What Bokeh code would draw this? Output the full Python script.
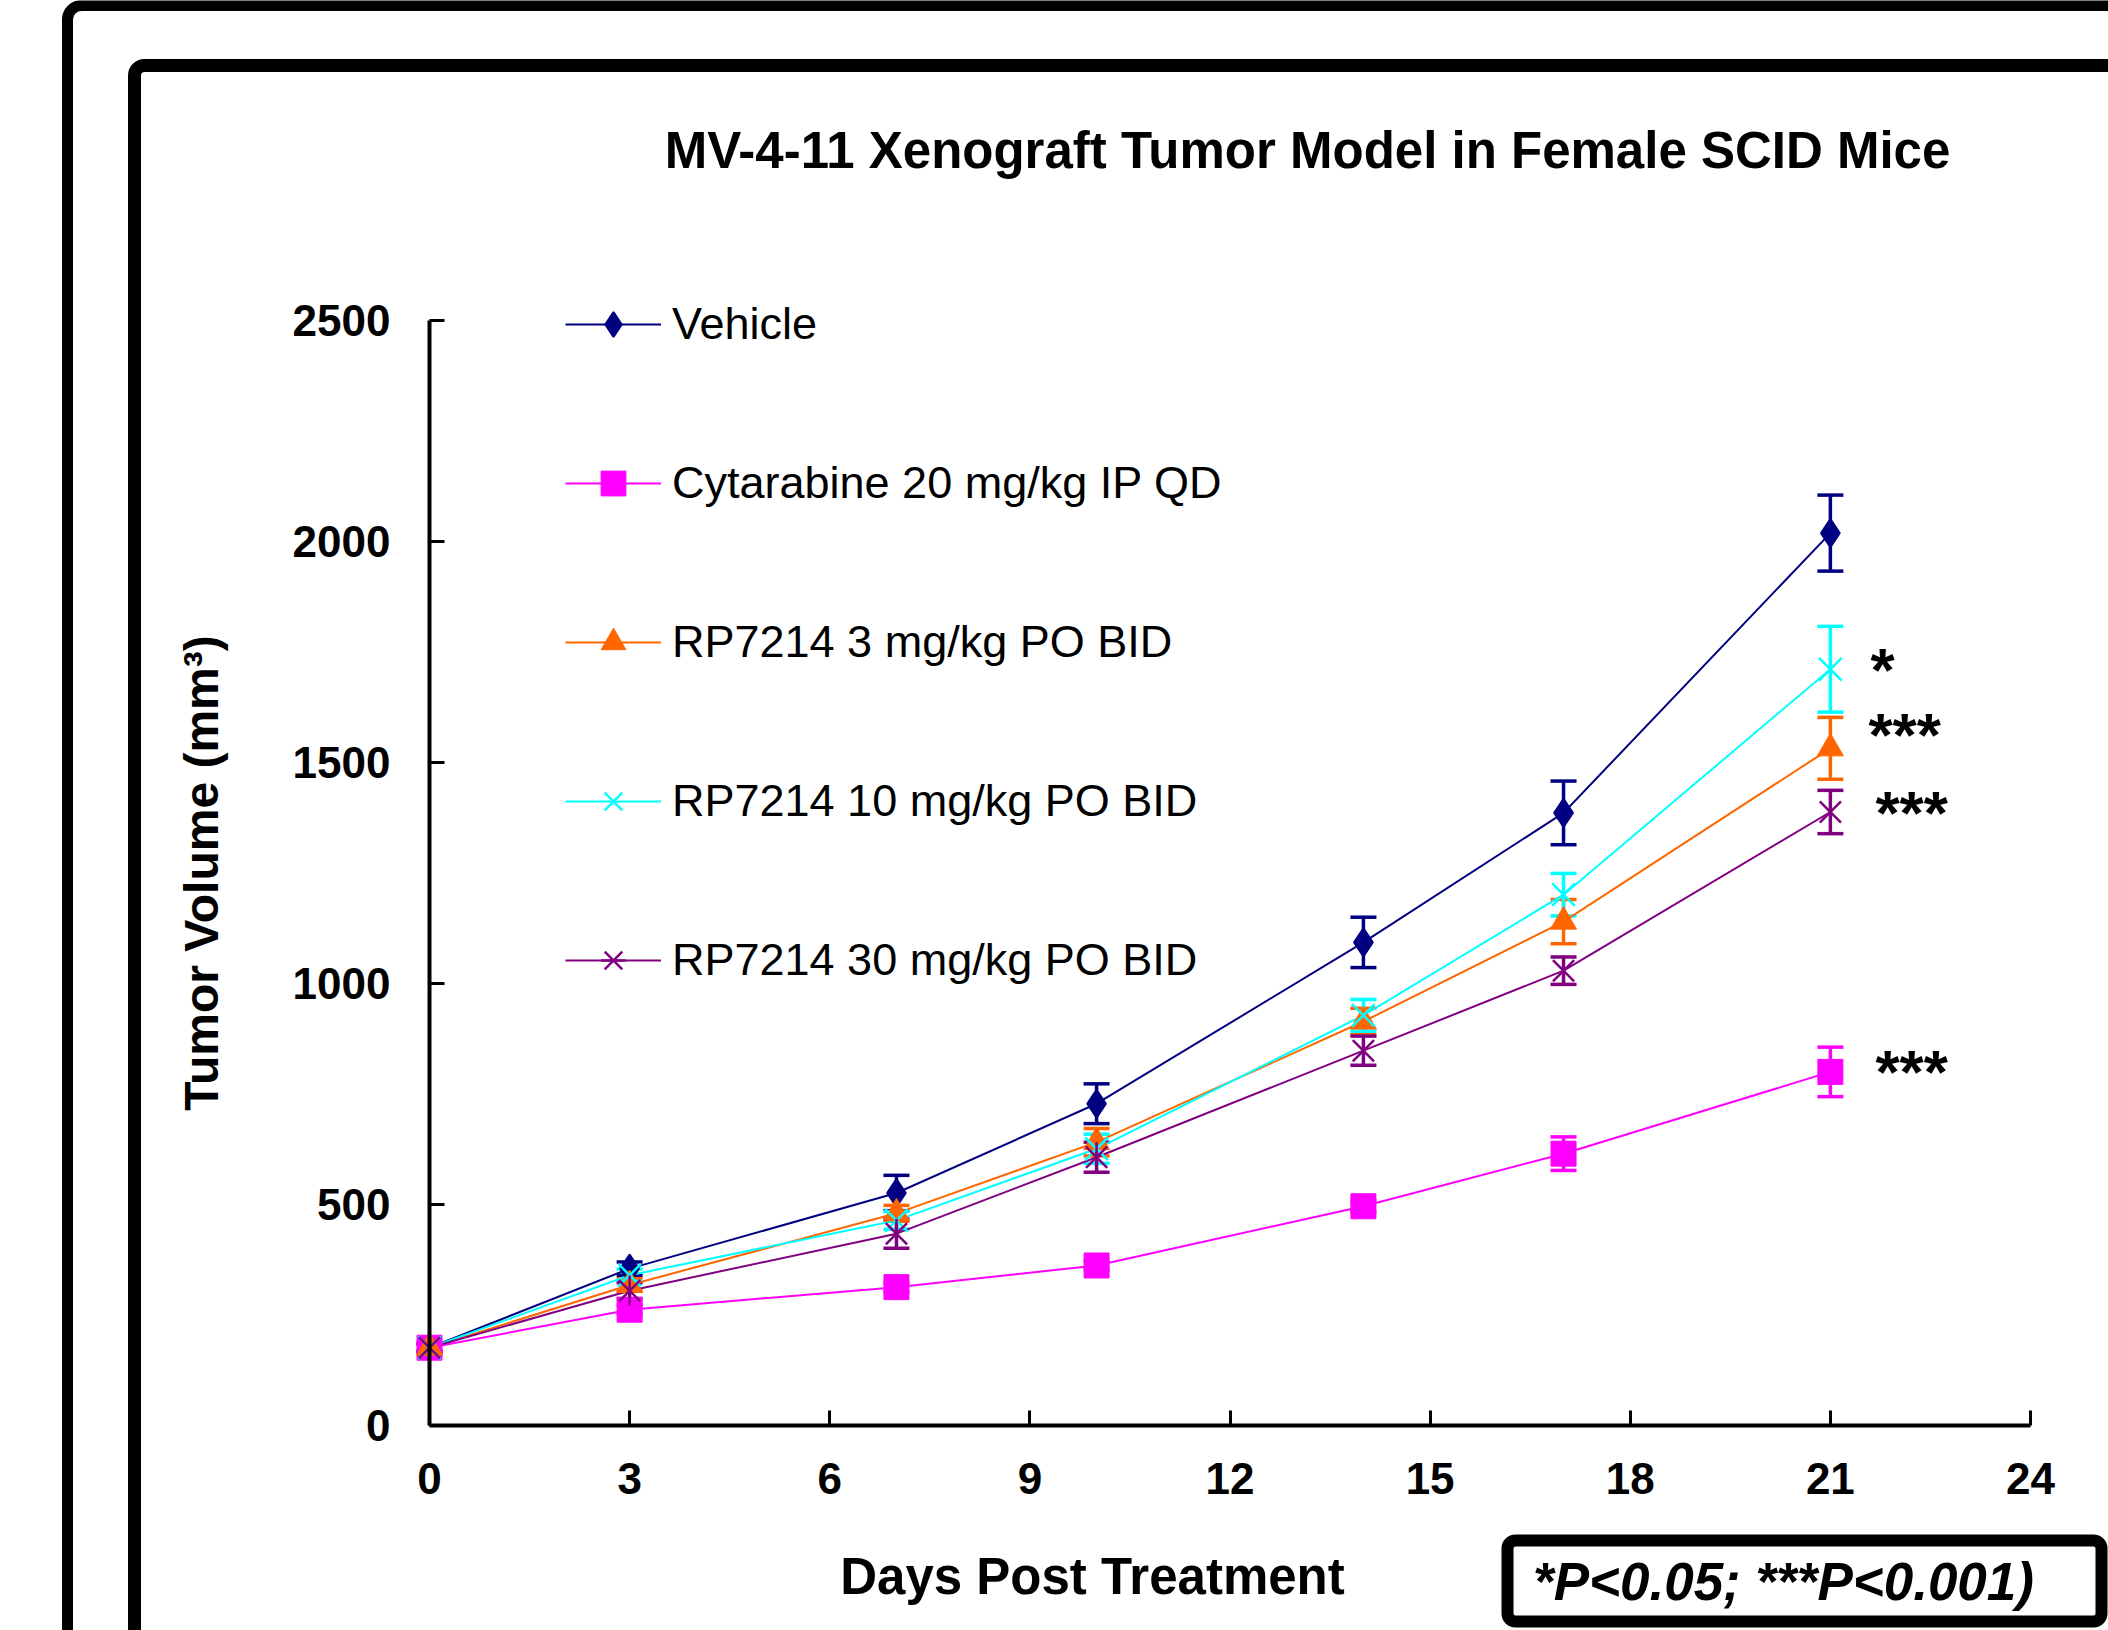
from bokeh.plotting import figure
from bokeh.models import (Range1d, FixedTicker, ColumnDataSource, Whisker, TeeHead,
                          Legend, LegendItem, Label, BoxAnnotation)
from bokeh.core.properties import value
from bokeh.embed import file_html
from bokeh.resources import INLINE

# ---------------- data ----------------
days = [0, 3, 7, 10, 14, 17, 21]
series_names = ["Vehicle", "Cytarabine 20 mg/kg IP QD", "RP7214 3 mg/kg PO BID",
                "RP7214 10 mg/kg PO BID", "RP7214 30 mg/kg PO BID"]
vehicle = [176, 355, 526, 728, 1093, 1386, 2019]
vehicle_err = [10, 15, 40, 45, 57, 72, 86]
cytarabine = [176, 262, 313, 362, 496, 615, 800]
cytarabine_err = [8, 10, 10, 10, 12, 38, 56]
rp7214_3 = [176, 318, 480, 641, 914, 1140, 1532]
rp7214_3_err = [8, 14, 18, 31, 30, 50, 70]
rp7214_10 = [176, 340, 464, 626, 928, 1201, 1711]
rp7214_10_err = [8, 14, 20, 33, 36, 48, 97]
rp7214_30 = [176, 305, 434, 607, 848, 1029, 1388]
rp7214_30_err = [8, 18, 33, 34, 33, 31, 49]
x_ticks = [0, 3, 6, 9, 12, 15, 18, 21, 24]
y_ticks = [0, 500, 1000, 1500, 2000, 2500]
sig_series = [rp7214_10, rp7214_3, rp7214_30, cytarabine]
sig_labels = ["*", "***", "***", "***"]

title_text = "MV-4-11 Xenograft Tumor Model in Female SCID Mice"
x_label = "Days Post Treatment"
y_label = "Tumor Volume (mm\u00b3)"
p_note = "*P<0.05; ***P<0.001)"

# ---------------- styles / layout ----------------
colors = ["#000080", "#FF00FF", "#FF6600", "#00FFFF", "#800080"]
FONT = "Liberation Sans"

W, H = 2108, 1630
AX_L, AX_R, AX_T, AX_B = 429, 2030, 320, 1425   # pixel box of the data axes
X0, X1 = x_ticks[0], x_ticks[-1]
Y0, Y1 = y_ticks[0], y_ticks[-1]
sx = (AX_R - AX_L) / (X1 - X0)
sy = (AX_B - AX_T) / (Y1 - Y0)

# the frame covers the whole canvas; axes sit at fixed data locations
p = figure(width=W, height=H,
           x_range=Range1d(X0 - AX_L / sx, X0 + (W - AX_L) / sx),
           y_range=Range1d(Y0 - (H - AX_B) / sy, Y0 + AX_B / sy),
           output_backend="svg", toolbar_location=None, min_border=0)
p.outline_line_color = None
p.grid.visible = False
p.background_fill_color = "white"
p.border_fill_color = "white"

values = [vehicle, cytarabine, rp7214_3, rp7214_10, rp7214_30]
errors = [vehicle_err, cytarabine_err, rp7214_3_err, rp7214_10_err, rp7214_30_err]

sources = []
for v, e in zip(values, errors):
    sources.append(ColumnDataSource(dict(
        x=days, y=v,
        upper=[a + b for a, b in zip(v, e)],
        lower=[a - b for a, b in zip(v, e)])))

# error bars
for src, c in zip(sources, colors):
    w = Whisker(source=src, base="x", upper="upper", lower="lower",
                line_color=c, line_width=3.5, level="underlay",
                upper_head=TeeHead(size=26, line_color=c, line_width=3.5),
                lower_head=TeeHead(size=26, line_color=c, line_width=3.5))
    p.add_layout(w)

line_rs = []
for src, c in zip(sources, colors):
    line_rs.append(p.line("x", "y", source=src, line_color=c, line_width=2))

marker_rs = []
marker_rs.append([p.scatter("x", "y", source=sources[0], marker="diamond",
                            size=28, fill_color=colors[0], line_color=colors[0], line_width=2)])
marker_rs.append([p.scatter("x", "y", source=sources[1], marker="square",
                            size=25, fill_color=colors[1], line_color=colors[1])])
marker_rs.append([p.scatter("x", "y", source=sources[2], marker="triangle",
                            size=26, fill_color=colors[2], line_color=colors[2])])
marker_rs.append([p.scatter("x", "y", source=sources[3], marker="x",
                            size=32, line_color=colors[3], line_width=2.5)])
marker_rs.append([p.scatter("x", "y", source=sources[4], marker="x",
                            size=30, line_color=colors[4], line_width=2.5),
                  p.scatter("x", "y", source=sources[4], marker="dash", angle=1.5707963,
                            size=30, line_color=colors[4], line_width=2.5)])

# significance marks
sig_src = ColumnDataSource(dict(
    x=[days[-1]] * len(sig_labels),
    y=[s[-1] for s in sig_series],
    text=sig_labels,
    dx=[40, 38, 45, 45],
    dy=[0, -14, 0, 0]))
p.text(x="x", y="y", text="text", x_offset="dx", y_offset="dy", source=sig_src,
       text_font=value(FONT), text_font_style="bold", text_font_size="62px",
       text_color="black", text_align="left", text_baseline="alphabetic")

# axes (fixed at the data origin)
for ax in (p.xaxis[0], p.yaxis[0]):
    ax.fixed_location = 0
    ax.axis_line_width = 4
    ax.axis_line_color = "black"
    ax.major_tick_line_width = 3
    ax.major_tick_line_color = "black"
    ax.major_tick_in = 15
    ax.major_tick_out = 0
    ax.minor_tick_line_color = None
    ax.major_label_text_font = FONT
    ax.major_label_text_font_style = "bold"
    ax.major_label_text_font_size = "44px"
    ax.major_label_text_color = "black"
p.xaxis.bounds = (X0, X1)
p.yaxis.bounds = (Y0, Y1)
p.xaxis.ticker = FixedTicker(ticks=x_ticks)
p.yaxis.ticker = FixedTicker(ticks=y_ticks)
p.xaxis.major_label_standoff = 37
p.yaxis.major_label_standoff = 39
p.yaxis.axis_label = y_label
p.yaxis.axis_label_text_font = FONT
p.yaxis.axis_label_text_font_style = "bold"
p.yaxis.axis_label_text_font_size = "48px"
p.yaxis.axis_label_text_color = "black"
p.yaxis.axis_label_standoff = 62

# legend (screen units relative to canvas bottom-left)
items = [LegendItem(label=n, renderers=[lr] + mr)
         for n, lr, mr in zip(series_names, line_rs, marker_rs)]
legend = Legend(items=items, location=(565, H - 991),
                glyph_width=96, glyph_height=62, label_height=62,
                label_standoff=11, spacing=97, padding=0, margin=0,
                border_line_color=None, background_fill_alpha=0,
                label_text_font=FONT, label_text_font_size="45px",
                label_text_color="black")
p.add_layout(legend)

# texts
def screen_label(px, py, text, size, style):
    return Label(x=px, y=H - py, x_units="screen", y_units="screen",
                 text=text, text_font=FONT, text_font_style=style,
                 text_font_size=size, text_align="center", text_baseline="middle",
                 text_color="black")

p.add_layout(screen_label(1307, 150, title_text, "51px", "bold"))
p.add_layout(screen_label(1092, 1576, x_label, "51px", "bold"))
p.add_layout(screen_label(1783, 1581, p_note, "53px", "bold italic"))

# decorative frames
def frame_box(l, t, r, b, lw, rad):
    return BoxAnnotation(left=l, right=r, top=H - t, bottom=H - b,
                         left_units="screen", right_units="screen",
                         top_units="screen", bottom_units="screen",
                         fill_alpha=0, line_color="black", line_alpha=1.0,
                         line_width=lw, border_radius=rad, level="overlay")

p.add_layout(frame_box(67, 5, W + 40, H + 40, 11, 14))
p.add_layout(frame_box(134, 65, W + 40, H + 40, 13, 10))
p.add_layout(frame_box(1507, 1540, 2101, 1621, 12, 8))

open("out.html", "w").write(file_html(p, INLINE))
